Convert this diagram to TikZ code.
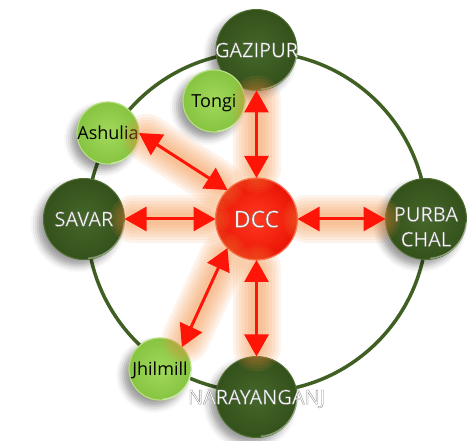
\documentclass[tikz,border=0pt]{standalone}
\usepackage{fontspec}
\setmainfont{Open Sans}
\usetikzlibrary{arrows.meta,shadows.blur}
\definecolor{ringgreen}{HTML}{3F5F23}
\definecolor{dkin}{HTML}{45672A}
\definecolor{dkout}{HTML}{34511B}
\definecolor{dkrim}{HTML}{4E6E32}
\definecolor{ltin}{HTML}{A3D95C}
\definecolor{ltout}{HTML}{86C441}
\definecolor{ltrim}{HTML}{B5DE7E}
\definecolor{redin}{HTML}{FF3A20}
\definecolor{redout}{HTML}{EA1405}
\definecolor{redrim}{HTML}{FF6A58}
\definecolor{arrred}{HTML}{FF1408}
\definecolor{glowc}{HTML}{F28C3C}
\newcommand\outl[1]{\special{pdf:literal direct 2 Tr 0.3 w 0.5 0.5 0.5 RG}#1\special{pdf:literal direct 0 Tr}}
\newcommand\lbl[1]{\makebox[0pt]{#1}}
\tikzset{
  shad/.style={blur shadow={shadow xshift=-6pt,shadow yshift=-6pt,shadow blur radius=7pt,shadow opacity=40}},
  bignode/.style={circle, minimum size=81pt, inner sep=0pt, outer sep=0pt, text depth=0pt,
    inner color=dkin, outer color=dkout, draw=dkrim, line width=1pt, text=white,
    font=\fontsize{20}{25}\selectfont, shad},
  smallnode/.style={circle, minimum size=62pt, inner sep=0pt, outer sep=0pt, text depth=0pt,
    inner color=ltin, outer color=ltout, draw=ltrim, line width=1.2pt, text=black,
    font=\fontsize{18}{22}\selectfont, shad},
  dccnode/.style={circle, minimum size=82pt, inner sep=0pt, outer sep=0pt, text depth=0pt,
    inner color=redin, outer color=redout, draw=redrim, line width=1.2pt, text=white,
    font=\fontsize{23}{28}\selectfont},
  arr/.style={draw=arrred, line width=3pt,
    {Triangle[length=22pt,width=24pt]}-{Triangle[length=22pt,width=24pt]}},
  glowline/.style={draw=glowc, line cap=round, shorten <=9pt, shorten >=9pt},
  gloss/.style={draw=white, opacity=0.4, line width=1.4pt, line cap=round}
}
\begin{document}
\begin{tikzpicture}[x=1pt,y=-1pt]
\useasboundingbox (0,0) rectangle (467,441);
\draw[ringgreen, line width=3.5pt] (257,222) circle[radius=170];
\node[bignode] (gaz) at (256.5,50) {\lbl{\outl{GAZIPUR}}};
\node[smallnode] (ton) at (214,101) {\lbl{Tongi}};
\node[smallnode] (ash) at (108,133) {\lbl{Ashulia}};
\node[bignode] (sav) at (84,219) {\lbl{\outl{SAVAR}}};
\node[bignode] (pur) at (426,219) {\lbl{\begin{tabular}{@{}c@{}}\outl{PURBA}\\\outl{CHAL}\end{tabular}}};
\node[smallnode] (jhi) at (160,369) {\lbl{Jhilmill}};
\node[bignode] (nar) at (256.5,397) {\lbl{\outl{NARAYANGANJ}}};
\node[dccnode] (dcc) at (256.5,219) {\lbl{\outl{DCC}}};
\foreach \n in {gaz,sav,pur,nar}{
  \draw[gloss] (\n.-5) arc[start angle=-5, end angle=-85, radius=39.3pt];
}
\foreach \n in {ton,ash,jhi}{
  \draw[gloss] (\n.-5) arc[start angle=-5, end angle=-85, radius=30.2pt];
}
\foreach \s/\t in {dcc.north/gaz.south, dcc.135/ash.east, dcc.west/sav.east, dcc.east/pur.west, dcc.225/jhi.45, dcc.south/nar.north}{
  \foreach \w in {48,42,36,30,24,18,12}{
    \draw[glowline, line width=\w pt, opacity=0.1] (\s) -- (\t);
  }
}
\foreach \s/\t in {dcc.north/gaz.south, dcc.135/ash.east, dcc.west/sav.east, dcc.east/pur.west, dcc.225/jhi.45, dcc.south/nar.north}{
  \draw[arr] (\s) -- (\t);
}
\end{tikzpicture}
\end{document}
